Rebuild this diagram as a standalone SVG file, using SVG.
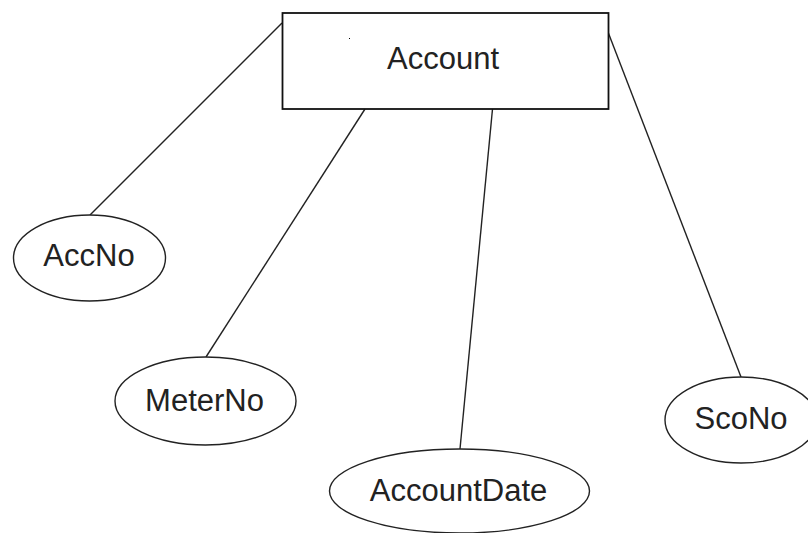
<svg xmlns="http://www.w3.org/2000/svg" width="808" height="533" viewBox="0 0 808 533">
  <style>
    .entity { fill: #fff; stroke: #111; stroke-width: 1.8; }
    .attr { fill: #fff; stroke: #222; stroke-width: 1.4; }
    .link { stroke: #222; stroke-width: 1.4; fill: none; }
    .label { font-family: "Liberation Sans", Arial, sans-serif; font-size: 31px; fill: #222; text-anchor: middle; }
  </style>
  <rect width="808" height="533" fill="#fff"/>

  <!-- connectors from the entity to its attributes -->
  <g id="connectors">
    <line class="link" x1="282" y1="23" x2="90" y2="215"/>
    <line class="link" x1="365" y1="109" x2="206" y2="357"/>
    <line class="link" x1="492.5" y1="109" x2="460" y2="449"/>
    <line class="link" x1="608" y1="32" x2="741" y2="377"/>
  </g>

  <g id="account">
    <rect class="entity" x="282.5" y="13" width="326" height="96"/>
    <text class="label" x="443" y="69">Account</text>
    <rect x="349" y="38" width="1" height="1" fill="#000"/>
  </g>

  <g id="accno">
    <ellipse class="attr" cx="89.5" cy="258" rx="76" ry="43"/>
    <text class="label" x="89" y="266">AccNo</text>
  </g>

  <g id="meterno">
    <ellipse class="attr" cx="205.5" cy="401" rx="90.5" ry="44"/>
    <text class="label" x="204.5" y="410.5">MeterNo</text>
  </g>

  <g id="accountdate">
    <ellipse class="attr" cx="459.5" cy="491" rx="130" ry="42"/>
    <text class="label" x="458.5" y="500.5">AccountDate</text>
  </g>

  <g id="scono">
    <ellipse class="attr" cx="741" cy="420" rx="76" ry="43"/>
    <text class="label" x="741" y="429">ScoNo</text>
  </g>
</svg>
